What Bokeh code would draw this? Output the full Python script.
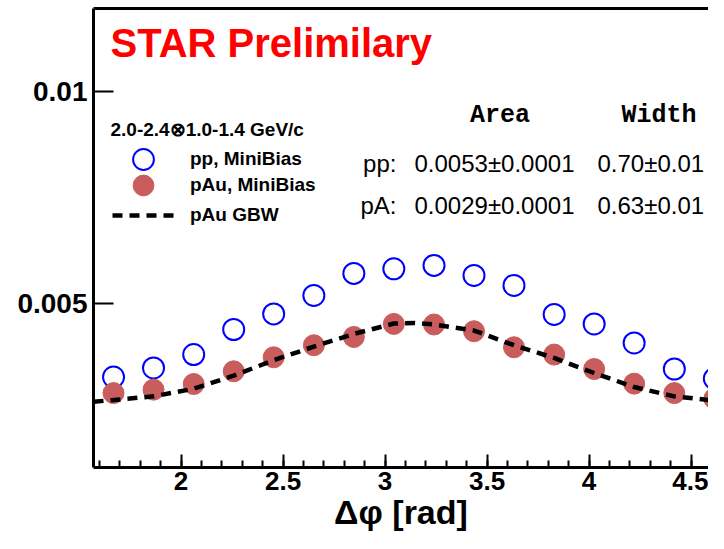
import numpy as np
from bokeh.plotting import figure
from bokeh.models import Range1d, FixedTicker, LinearAxis, Label, Legend, LegendItem
from bokeh.embed import file_html
from bokeh.resources import INLINE

# ---------------- data ----------------
dphi = [1.669, 1.865, 2.062, 2.258, 2.454, 2.651, 2.847, 3.043,
        3.240, 3.436, 3.632, 3.829, 4.025, 4.221, 4.418, 4.614]
pp_vals = [0.003253, 0.003467, 0.003784, 0.004377, 0.004746, 0.005182, 0.005704, 0.005813,
           0.005893, 0.005656, 0.005419, 0.004732, 0.004509, 0.004059, 0.003443, 0.003216]
pau_vals = [0.002874, 0.002955, 0.003088, 0.003389, 0.003720, 0.004005, 0.004201, 0.004509,
            0.004495, 0.004336, 0.003957, 0.003784, 0.003443, 0.003097, 0.002874, 0.002742]
gbw_x = [1.571, 1.669, 1.865, 2.062, 2.258, 2.454, 2.651, 2.847, 3.043, 3.142,
         3.240, 3.436, 3.632, 3.829, 4.025, 4.221, 4.418, 4.614, 4.712]
gbw_y = [0.002670, 0.002709, 0.002796, 0.002977, 0.003287, 0.003649, 0.003973, 0.004272,
         0.004518, 0.004533, 0.004495, 0.004353, 0.004005, 0.003704, 0.003348, 0.003016,
         0.002796, 0.002694, 0.002670]

x_ticks = [2, 2.5, 3, 3.5, 4, 4.5]
x_tick_labels = ["2", "2.5", "3", "3.5", "4", "4.5"]
y_ticks = [0.005, 0.01]
y_tick_labels = ["0.005", "0.01"]

legend_title = "2.0-2.4\u22971.0-1.4 GeV/c"
series_names = ["pp, MiniBias", "pAu, MiniBias", "pAu GBW"]
stat_headers = ["Area", "Width"]
stat_rows = ["pp:", "pA:"]
stat_area = ["0.0053\u00b10.0001", "0.0029\u00b10.0001"]
stat_width = ["0.70\u00b10.01", "0.63\u00b10.01"]

# ---------------- figure ----------------
FONT = "Liberation Sans"
p = figure(width=708, height=533, output_backend="svg", toolbar_location=None,
           x_range=Range1d(1.5708, 4.5855), y_range=Range1d(0.001114, 0.011967),
           x_axis_type=None, y_axis_type=None,
           min_border_left=93, min_border_right=0, min_border_top=8, min_border_bottom=0)
p.outline_line_color = None
p.background_fill_color = "white"
p.border_fill_color = "white"

x_minor = np.round(np.arange(16, 46) * 0.1, 1).tolist()
xaxis = LinearAxis(ticker=FixedTicker(ticks=x_ticks, minor_ticks=x_minor),
                   major_label_overrides=dict(zip(x_ticks, x_tick_labels)),
                   axis_label="\u0394\u03c6 [rad]")
xaxis.axis_line_width = 3
xaxis.major_tick_line_width = 2
xaxis.minor_tick_line_width = 2
xaxis.major_tick_in = 13
xaxis.major_tick_out = 0
xaxis.minor_tick_in = 7
xaxis.minor_tick_out = 0
xaxis.major_label_text_font = FONT
xaxis.major_label_text_font_size = "26px"
xaxis.major_label_text_font_style = "bold"
xaxis.major_label_text_color = "black"
xaxis.major_label_standoff = 4
xaxis.axis_label_text_font = FONT
xaxis.axis_label_text_font_size = "34px"
xaxis.axis_label_text_font_style = "bold"
xaxis.axis_label_text_color = "black"
xaxis.axis_label_standoff = 0
p.add_layout(xaxis, "below")

yaxis = LinearAxis(ticker=FixedTicker(ticks=y_ticks, minor_ticks=[]),
                   major_label_overrides=dict(zip(y_ticks, y_tick_labels)))
yaxis.axis_line_width = 3
yaxis.major_tick_line_width = 2
yaxis.major_tick_in = 20
yaxis.major_tick_out = 0
yaxis.minor_tick_in = 0
yaxis.minor_tick_out = 0
yaxis.major_label_text_font = FONT
yaxis.major_label_text_font_size = "28px"
yaxis.major_label_text_font_style = "bold"
yaxis.major_label_text_color = "black"
yaxis.major_label_standoff = 6
p.add_layout(yaxis, "left")

top = LinearAxis(ticker=FixedTicker(ticks=[], minor_ticks=[]))
top.axis_line_width = 3
top.major_tick_in = 0
top.major_tick_out = 0
top.minor_tick_in = 0
top.minor_tick_out = 0
top.major_label_standoff = 0
top.major_label_text_font_size = "0px"
p.add_layout(top, "above")

# ---------------- data marks ----------------
r_pp = p.scatter(dphi, pp_vals, size=21, marker="circle", fill_color=None,
                 line_color="#0000ff", line_width=2)
r_pa = p.scatter(dphi, pau_vals, size=21, marker="circle", fill_color="#c95c5c",
                 line_color="#c95c5c", line_width=1)
r_gbw = p.line(gbw_x, gbw_y, line_color="black", line_width=4.5, line_dash="10 7")

# ---------------- legend (one entry per Legend so rows can sit close) ----------------
legend_rows_y = [282, 256, 226]   # screen offsets of each entry box from frame bottom
for name, rend, ly in zip(series_names, [r_pp, r_pa, r_gbw], legend_rows_y):
    lg = Legend(items=[LegendItem(label=name, renderers=[rend])],
                location=(19, ly), glyph_width=62, glyph_height=52, spacing=0,
                label_standoff=16, padding=0, margin=0, border_line_color=None,
                background_fill_alpha=0, label_text_font=FONT, label_text_font_size="19px",
                label_text_font_style="bold", label_text_color="black")
    p.add_layout(lg)

p.add_layout(Label(x=1.6541, y=0.009100, text=legend_title, text_font=FONT,
                   text_font_size="19px", text_font_style="bold", text_color="black",
                   text_baseline="alphabetic"))

# ---------------- annotations ----------------
p.add_layout(Label(x=1.6541, y=0.011161, text="STAR Prelimilary", text_color="#ff0000",
                   text_font=FONT, text_font_size="40px", text_font_style="bold",
                   text_baseline="alphabetic"))
hdr_x = [3.5634, 4.3429]
for hx, ht in zip(hdr_x, stat_headers):
    p.add_layout(Label(x=hx, y=0.009431, text=ht, text_font="Liberation Mono",
                       text_font_size="25px", text_font_style="bold", text_align="center",
                       text_color="black", text_baseline="alphabetic"))
row_y = [0.008294, 0.007310]
for ry, lab, a, w in zip(row_y, stat_rows, stat_area, stat_width):
    p.add_layout(Label(x=3.056, y=ry, text=lab, text_font=FONT, text_font_size="24px",
                       text_color="black", text_align="right", text_baseline="alphabetic"))
    p.add_layout(Label(x=3.1443, y=ry, text=a, text_font=FONT, text_font_size="24px",
                       text_color="black", text_baseline="alphabetic"))
    p.add_layout(Label(x=4.0414, y=ry, text=w, text_font=FONT, text_font_size="24px",
                       text_color="black", text_baseline="alphabetic"))

open("out.html", "w").write(file_html(p, INLINE))
